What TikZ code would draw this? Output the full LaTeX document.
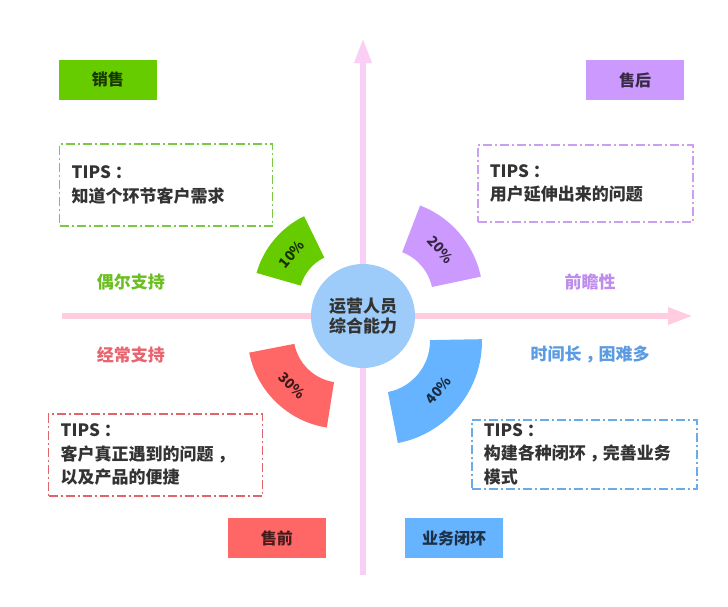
\documentclass[tikz,border=0pt]{standalone}
\usepackage{fontspec}
\setmainfont{Noto Sans CJK SC}
\usetikzlibrary{arrows.meta}
\definecolor{axisv}{HTML}{FBCFF5}
\definecolor{axish}{HTML}{FFCCE0}
\definecolor{hubblue}{HTML}{9ECCFA}
\definecolor{sgreen}{HTML}{66CC00}
\definecolor{spurple}{HTML}{CC99FF}
\definecolor{sred}{HTML}{FF6666}
\definecolor{sblue}{HTML}{66B3FF}
\definecolor{ink}{HTML}{333333}
\definecolor{lgreen}{HTML}{6CBF22}
\definecolor{lpurple}{HTML}{BE8CEB}
\definecolor{lred}{HTML}{E8646E}
\definecolor{lblue}{HTML}{5A9BE1}
\definecolor{bgreen}{HTML}{7AC943}
\definecolor{bpurple}{HTML}{C8A0F0}
\definecolor{bred}{HTML}{E0656B}
\definecolor{bblue}{HTML}{6AABE8}
\newcommand{\tipsmark}{TIPS\kern4pt：}
\newcommand{\midcomma}{\kern4pt，\kern-4pt}

\begin{document}
\begin{tikzpicture}[x=1pt,y=1pt,
  tag/.style={minimum width=98pt,minimum height=40pt,inner sep=0pt,text=black,text opacity=.72,
    font=\bfseries\fontsize{16}{18}\selectfont},
  tipsbox/.style={draw,line width=1.5pt,dash pattern=on 9pt off 3pt on 2pt off 3pt,anchor=north west,
    align=left,inner xsep=12pt,inner ysep=0pt,text=ink,font=\bfseries\fontsize{17}{23.5}\selectfont},
  note/.style={font=\bfseries\fontsize{17}{20}\selectfont},
  pct/.style={text=black,text opacity=.75,font=\bfseries\fontsize{14}{16}\selectfont}]
 \fill[white] (-363,-290) rectangle (365,316);
 \useasboundingbox (-363,-290) rectangle (365,316);
 \coordinate (vbot) at (0,-259);
 \coordinate (vtop) at (0,278);
 \coordinate (hleft) at (-301,0);
 \coordinate (hright) at (330,0);
 \draw[axisv,line width=6pt,-{Triangle[length=25pt,width=16pt]}] (vbot)--(vtop);
 \draw[axish,line width=6pt,-{Triangle[length=25pt,width=16pt]}] (hleft)--(hright);
 \node[circle,fill=hubblue,minimum size=104pt,inner sep=0pt,align=center,text=ink,
   font=\bfseries\fontsize{17}{20}\selectfont] (hub) at (0,0) {运营人员\\综合能力};
 \foreach \dx/\dy/\a/\b/\ri/\ro/\col/\rot/\lab in {-19/18/116/164/45/91/sgreen/50/10,
   22/19/12/69/48/98/spurple/-49/20,-21.5/-18.7/191/261/48/94/sred/-44/30,
   15/-25/281/361/52/104/sblue/51/40}{%
   \begin{scope}[shift={(\dx,\dy)}]
   \fill[\col] (\a:\ri) arc[start angle=\a,end angle=\b,radius=\ri]
     -- (\b:\ro) arc[start angle=\b,end angle=\a,radius=\ro] -- cycle;
   \node[pct,rotate=\rot] (pct\lab) at ({(\a+\b)/2}:{(\ri+\ro)/2}) {\lab\%};
   \end{scope}
 }
 \node[tag,fill=sgreen] (sales) at (-255,236.5) {销售};
 \node[tag,fill=spurple] (after) at (272,236) {售后};
 \node[tag,fill=sred] (before) at (-86,-222) {售前};
 \node[tag,fill=sblue] (loop) at (91,-222) {业务闭环};
 \node[tipsbox,draw=bgreen,text width=189pt,minimum height=82pt] (tipsg) at (-304,173)
   {\tipsmark\\知道个环节客户需求};
 \node[tipsbox,draw=bpurple,text width=191pt,minimum height=77pt] (tipsp) at (114,172)
   {\tipsmark\\用户延伸出来的问题};
 \node[tipsbox,draw=bred,text width=190pt,minimum height=82pt] (tipsr) at (-315,-97)
   {\tipsmark\\客户真正遇到的问题\midcomma\\以及产品的便捷};
 \node[tipsbox,draw=bblue,text width=201pt,minimum height=69pt] (tipsb) at (108,-103)
   {\tipsmark\\构建各种闭环\midcomma 完善业务\\模式};
 \node[note,text=lgreen] (rare) at (-232,34) {偶尔支持};
 \node[note,text=lred] (often) at (-232,-39) {经常支持};
 \node[note,text=lpurple] (ahead) at (227,34) {前瞻性};
 \node[note,text=lblue] (hard) at (227,-39) {时间长\midcomma 困难多};
\end{tikzpicture}
\end{document}
